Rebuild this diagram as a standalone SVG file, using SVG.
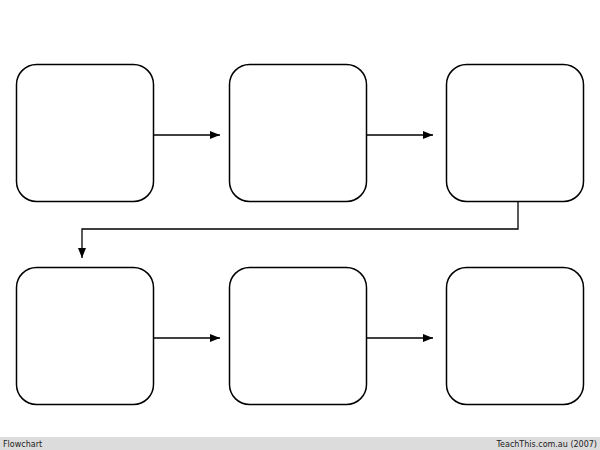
<svg xmlns="http://www.w3.org/2000/svg" width="600" height="450" viewBox="0 0 600 450">
<style>
.n{fill:#fff;stroke:#000;stroke-width:1.5}
.c{fill:none;stroke:#000;stroke-width:1.3}
.t{font-family:"DejaVu Sans",sans-serif;font-size:8px;fill:#222}
</style>
<defs><marker id="a" markerWidth="10" markerHeight="8" refX="10" refY="4" orient="auto" markerUnits="userSpaceOnUse"><path d="M0,0L10,4L0,8z"/></marker></defs>
<rect width="600" height="450" fill="#fff"/>
<g id="n1"><rect class="n" x="16.5" y="64.5" width="137" height="137" rx="20"/></g>
<g id="n2"><rect class="n" x="229.5" y="64.5" width="137" height="137" rx="20"/></g>
<g id="n3"><rect class="n" x="446.5" y="64.5" width="137" height="137" rx="20"/></g>
<g id="n4"><rect class="n" x="16.5" y="267.5" width="137" height="137" rx="20"/></g>
<g id="n5"><rect class="n" x="229.5" y="267.5" width="137" height="137" rx="20"/></g>
<g id="n6"><rect class="n" x="446.5" y="267.5" width="137" height="137" rx="20"/></g>
<g id="connectors">
<path class="c" d="M154,135H220" marker-end="url(#a)"/>
<path class="c" d="M367,135H433" marker-end="url(#a)"/>
<path class="c" d="M518,202V229H82V258" marker-end="url(#a)"/>
<path class="c" d="M154,338H220" marker-end="url(#a)"/>
<path class="c" d="M367,338H433" marker-end="url(#a)"/>
</g>
<rect x="0" y="437" width="600" height="13" fill="#dcdcdc"/>
<text class="t" x="3" y="447">Flowchart</text>
<text class="t" x="597" y="447" text-anchor="end">TeachThis.com.au (2007)</text>
</svg>
